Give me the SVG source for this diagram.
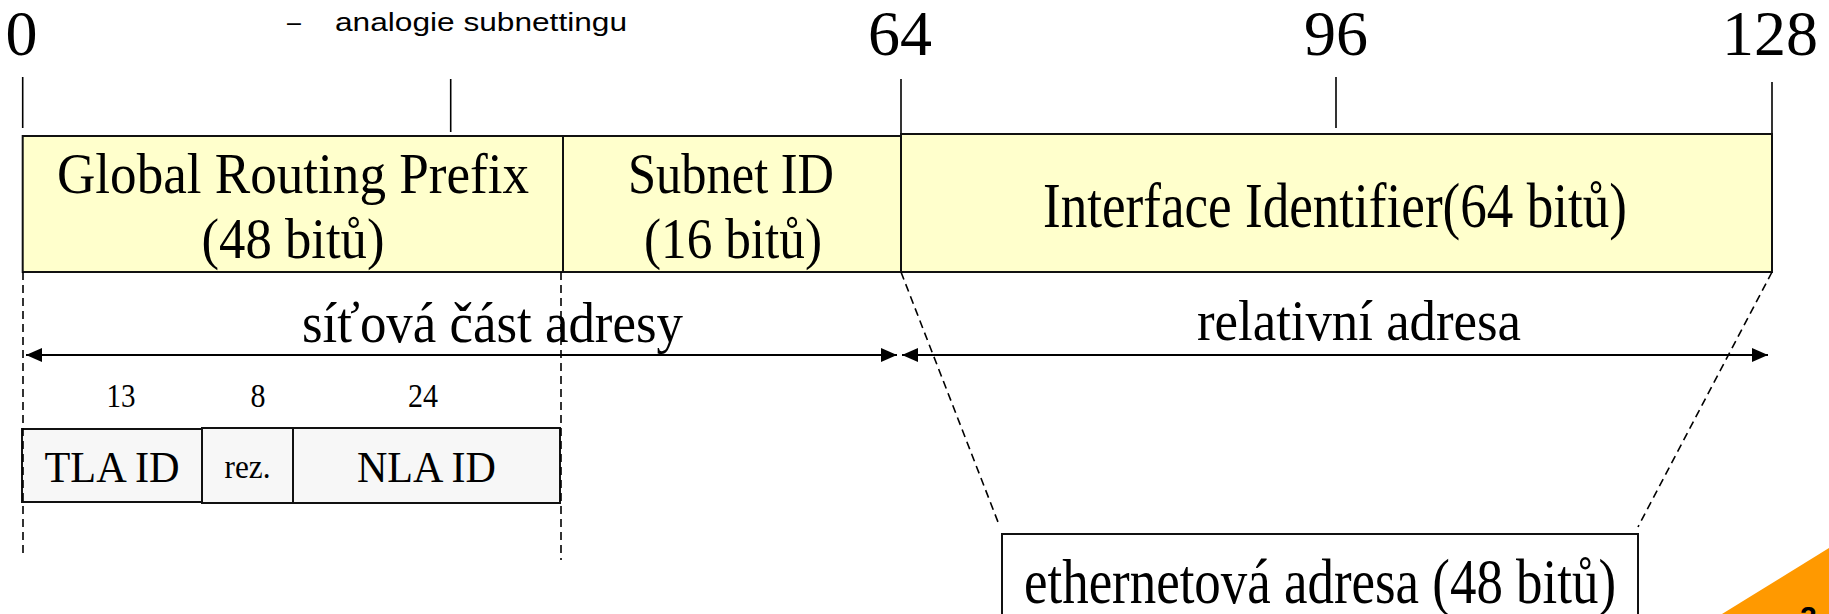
<svg xmlns="http://www.w3.org/2000/svg" width="1829" height="614" viewBox="0 0 1829 614">
<style>
.serif{font-family:"Liberation Serif","Times New Roman",serif;fill:#000}
.sans{font-family:"Liberation Sans",Arial,sans-serif;fill:#000}
.tick{stroke:#000;stroke-width:1.6}
.box{fill:#FFFFCC;stroke:#111;stroke-width:2}
.sbox{fill:#F7F7F7;stroke:#111;stroke-width:2}
.dash{stroke:#000;stroke-width:1.6;stroke-dasharray:8 5;fill:none}
.arr{stroke:#000;stroke-width:2;fill:none}
</style>
<defs>
<marker id="ah" markerUnits="userSpaceOnUse" markerWidth="16" markerHeight="14" refX="16" refY="7" orient="auto-start-reverse">
<path d="M0,0 L16,7 L0,14 z" fill="#000"/>
</marker>
</defs>
<rect width="1829" height="614" fill="#fff"/>
<g id="scale">
<text class="serif" x="21.5" y="55" font-size="64" text-anchor="middle">0</text>
<text class="serif" x="900" y="55" font-size="64" text-anchor="middle">64</text>
<text class="serif" x="1336" y="55" font-size="64" text-anchor="middle">96</text>
<text class="serif" x="1770" y="55" font-size="64" text-anchor="middle">128</text>
<line class="tick" x1="22.7" y1="77" x2="22.7" y2="128"/>
<line class="tick" x1="450.7" y1="79" x2="450.7" y2="132"/>
<line class="tick" x1="901" y1="79" x2="901" y2="134"/>
<line class="tick" x1="1336" y1="77" x2="1336" y2="128"/>
<line class="tick" x1="1772" y1="82" x2="1772" y2="134"/>
</g>
<g id="note">
<text class="sans" x="287" y="30.5" font-size="25">–</text>
<text class="sans" x="335" y="30.5" font-size="25" textLength="292" lengthAdjust="spacingAndGlyphs">analogie subnettingu</text>
</g>
<g id="global-routing-prefix">
<rect class="box" x="22.7" y="136" width="540.3" height="136"/>
<text class="serif" x="293" y="192.5" font-size="57" text-anchor="middle" textLength="472" lengthAdjust="spacingAndGlyphs">Global Routing Prefix</text>
<text class="serif" x="293" y="258" font-size="57" text-anchor="middle" textLength="183" lengthAdjust="spacingAndGlyphs">(48 bitů)</text>
</g>
<g id="subnet-id">
<rect class="box" x="563" y="136" width="338" height="136"/>
<text class="serif" x="731" y="192.5" font-size="57" text-anchor="middle" textLength="206" lengthAdjust="spacingAndGlyphs">Subnet ID</text>
<text class="serif" x="733" y="258" font-size="57" text-anchor="middle" textLength="178" lengthAdjust="spacingAndGlyphs">(16 bitů)</text>
</g>
<g id="interface-identifier">
<rect class="box" x="901" y="134" width="871" height="138"/>
<text class="serif" x="1335" y="227" font-size="64" text-anchor="middle" textLength="584" lengthAdjust="spacingAndGlyphs">Interface Identifier(64 bitů)</text>
</g>
<g id="tla-id">
<rect class="sbox" x="22" y="429" width="180" height="73"/>
<text class="serif" x="112" y="482" font-size="44" text-anchor="middle" textLength="135" lengthAdjust="spacingAndGlyphs">TLA ID</text>
</g>
<g id="rez">
<rect class="sbox" x="202" y="428" width="91" height="75"/>
<text class="serif" x="247.5" y="478" font-size="33" text-anchor="middle" textLength="46" lengthAdjust="spacingAndGlyphs">rez.</text>
</g>
<g id="nla-id">
<rect class="sbox" x="293" y="428" width="267" height="75"/>
<text class="serif" x="426.5" y="482" font-size="44" text-anchor="middle" textLength="139" lengthAdjust="spacingAndGlyphs">NLA ID</text>
</g>
<g id="bit-counts">
<text class="serif" x="121" y="407" font-size="33" text-anchor="middle" textLength="29" lengthAdjust="spacingAndGlyphs">13</text>
<text class="serif" x="258" y="407" font-size="33" text-anchor="middle" textLength="15" lengthAdjust="spacingAndGlyphs">8</text>
<text class="serif" x="423" y="407" font-size="33" text-anchor="middle" textLength="30" lengthAdjust="spacingAndGlyphs">24</text>
</g>
<g id="ethernet-address">
<rect x="1002" y="534" width="636" height="100" fill="#fff" stroke="#111" stroke-width="2"/>
<text class="serif" x="1320" y="603" font-size="63" text-anchor="middle" textLength="592" lengthAdjust="spacingAndGlyphs">ethernetová adresa (48 bitů)</text>
</g>
<g id="connectors">
<line class="dash" x1="23" y1="272" x2="23" y2="555"/>
<line class="dash" x1="561" y1="272" x2="561" y2="560"/>
<line class="dash" x1="901" y1="272" x2="998" y2="522"/>
<line class="dash" x1="1772" y1="272" x2="1638" y2="527"/>
<line class="arr" x1="26" y1="355" x2="897" y2="355" marker-start="url(#ah)" marker-end="url(#ah)"/>
<line class="arr" x1="902" y1="355" x2="1768" y2="355" marker-start="url(#ah)" marker-end="url(#ah)"/>
</g>
<g id="span-labels">
<text class="serif" x="302" y="342" font-size="56" textLength="381" lengthAdjust="spacingAndGlyphs">síťová část adresy</text>
<text class="serif" x="1197" y="340" font-size="56" textLength="324" lengthAdjust="spacingAndGlyphs">relativní adresa</text>
</g>
<g id="corner">
<polygon points="1722,614 1829,548 1829,614" fill="#FF9900"/>
<text class="sans" x="1800" y="627" font-size="30" font-weight="bold" fill="#333">2</text>
</g>
</svg>
